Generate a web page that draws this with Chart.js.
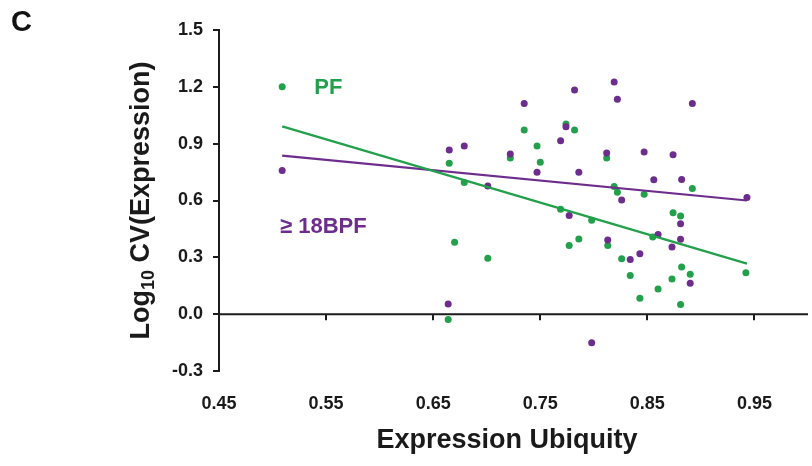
<!DOCTYPE html>
<html>
<head>
<meta charset="utf-8">
<script src="https://cdn.jsdelivr.net/npm/chart.js@4"></script>
<style>
  html, body { margin: 0; padding: 0; background: #fff; }
  #wrap { width: 812px; height: 466px; position: relative; }
</style>
</head>
<body>
<div id="wrap"><canvas id="c" width="812" height="466"></canvas></div>
<script>
// ---- data ----
const xTicks = [0.45, 0.55, 0.65, 0.75, 0.85, 0.95];
const yTicks = [-0.3, 0.0, 0.3, 0.6, 0.9, 1.2, 1.5];

const pfX = [0.509,0.664,0.665,0.670,0.679,0.701,0.722,0.735,0.747,0.750,0.769,0.774,0.777,0.782,0.786,0.798,0.812,0.813,0.819,0.822,0.826,0.834,0.843,0.847,0.855,0.860,0.873,0.874,0.881,0.881,0.882,0.890,0.892,0.942];
const pfY = [1.200,-0.028,0.796,0.379,0.695,0.295,0.825,0.972,0.888,0.802,0.554,1.004,0.363,0.972,0.397,0.496,0.825,0.363,0.674,0.644,0.293,0.204,0.084,0.633,0.407,0.133,0.186,0.535,0.518,0.051,0.249,0.211,0.663,0.219];

const bpfX = [0.509,0.664,0.665,0.679,0.701,0.722,0.735,0.747,0.769,0.774,0.777,0.782,0.786,0.798,0.812,0.813,0.819,0.822,0.826,0.834,0.843,0.847,0.856,0.860,0.873,0.874,0.881,0.881,0.882,0.890,0.892,0.943];
const bpfY = [0.758,0.054,0.867,0.888,0.677,0.846,1.112,0.749,0.916,0.989,0.521,1.183,0.749,-0.151,0.851,0.391,1.225,1.135,0.602,0.288,0.319,0.856,0.709,0.421,0.354,0.841,0.477,0.395,0.711,0.163,1.112,0.616];

const pfFitX = [0.509, 0.943];
const pfFitY = [0.991, 0.267];
const bpfFitX = [0.509, 0.943];
const bpfFitY = [0.837, 0.600];

const seriesNames = ['PF', '\u2265 18BPF'];
const xTitle = 'Expression Ubiquity';
const panelLabel = 'C';

// ---- styles ----
const GREEN = '#22a04b';
const PURPLE = '#6c2d8c';
const AXIS = '#1c1c1c';
const FONT = '"Liberation Sans", Arial, Helvetica, sans-serif';

const zip = (xs, ys) => xs.map((x, i) => ({x: x, y: ys[i]}));

const annot = {
  id: 'annot',
  afterDraw(chart) {
    const ctx = chart.ctx;
    const xs = chart.scales.x, ys = chart.scales.y;
    const ca = chart.chartArea;
    ctx.save();
    // zero line with downward ticks
    const y0 = ys.getPixelForValue(0);
    ctx.strokeStyle = AXIS;
    ctx.lineWidth = 2;
    ctx.beginPath();
    ctx.moveTo(ca.left, y0);
    ctx.lineTo(ca.right, y0);
    ctx.stroke();
    xTicks.slice(1).forEach(v => {
      const px = Math.round(xs.getPixelForValue(v));
      ctx.beginPath();
      ctx.moveTo(px, y0);
      ctx.lineTo(px, y0 + 6);
      ctx.stroke();
    });
    // panel label
    ctx.fillStyle = '#111';
    ctx.font = 'bold 29px ' + FONT;
    ctx.textAlign = 'left';
    ctx.textBaseline = 'middle';
    ctx.fillText(panelLabel, 11, 23);
    // x title
    ctx.font = 'bold 27px ' + FONT;
    ctx.textAlign = 'center';
    ctx.fillStyle = '#1a1a1a';
    ctx.fillText(xTitle, 507, 441);
    // y title with subscript
    ctx.translate(142, (ca.top + ca.bottom) / 2);
    ctx.rotate(-Math.PI / 2);
    const big = 'bold 27px ' + FONT, small = 'bold 18px ' + FONT;
    ctx.font = big; const w1 = ctx.measureText('Log').width;
    ctx.font = small; const w2 = ctx.measureText('10').width;
    ctx.font = big; const w3 = ctx.measureText(' CV(Expression)').width;
    let x0 = -(w1 + w2 + w3) / 2;
    ctx.textAlign = 'left';
    ctx.textBaseline = 'middle';
    ctx.font = big; ctx.fillText('Log', x0, 0);
    ctx.font = small; ctx.fillText('10', x0 + w1, 7);
    ctx.font = big; ctx.fillText(' CV(Expression)', x0 + w1 + w2, 0);
    ctx.restore();
    // series labels
    ctx.save();
    ctx.font = 'bold 22px ' + FONT;
    ctx.textAlign = 'left';
    ctx.textBaseline = 'middle';
    ctx.fillStyle = GREEN;
    ctx.fillText(seriesNames[0], xs.getPixelForValue(0.539), ys.getPixelForValue(1.195));
    ctx.fillStyle = PURPLE;
    ctx.fillText(seriesNames[1], xs.getPixelForValue(0.507), ys.getPixelForValue(0.46));
    ctx.restore();
  }
};

new Chart(document.getElementById('c'), {
  type: 'scatter',
  data: {
    datasets: [
      { label: seriesNames[0], data: zip(pfX, pfY), backgroundColor: GREEN, borderColor: GREEN, pointRadius: 3.5, pointBorderWidth: 0, order: 3 },
      { label: seriesNames[1], data: zip(bpfX, bpfY), backgroundColor: PURPLE, borderColor: PURPLE, pointRadius: 3.5, pointBorderWidth: 0, order: 2 },
      { type: 'line', label: 'PF fit', data: zip(pfFitX, pfFitY), borderColor: GREEN, borderWidth: 2.2, pointRadius: 0, fill: false, order: 1 },
      { type: 'line', label: 'BPF fit', data: zip(bpfFitX, bpfFitY), borderColor: PURPLE, borderWidth: 2.2, pointRadius: 0, fill: false, order: 1 }
    ]
  },
  options: {
    responsive: false,
    animation: false,
    events: [],
    layout: { padding: { top: 30, right: 2, left: 0, bottom: 0 } },
    plugins: { legend: { display: false }, tooltip: { enabled: false } },
    scales: {
      x: {
        type: 'linear', min: 0.45, max: 1.0,
        afterBuildTicks: s => { s.ticks = xTicks.map(v => ({value: v})); },
        afterFit: s => { s.height = 95; },
        grid: { display: false },
        border: { display: false },
        ticks: { color: '#1a1a1a', font: { family: FONT, size: 18, weight: 'bold' }, padding: 14, callback: v => v.toFixed(2) }
      },
      y: {
        type: 'linear', min: -0.3, max: 1.5,
        afterBuildTicks: s => { s.ticks = yTicks.map(v => ({value: v})); },
        afterFit: s => { s.width = 219; },
        grid: { display: true, drawOnChartArea: false, drawTicks: true, tickLength: 6, color: AXIS, lineWidth: 2 },
        border: { display: true, color: AXIS, width: 2 },
        ticks: { color: '#1a1a1a', font: { family: FONT, size: 18, weight: 'bold' }, padding: 10, callback: v => v.toFixed(1) }
      }
    }
  },
  plugins: [annot]
});
</script>
</body>
</html>
